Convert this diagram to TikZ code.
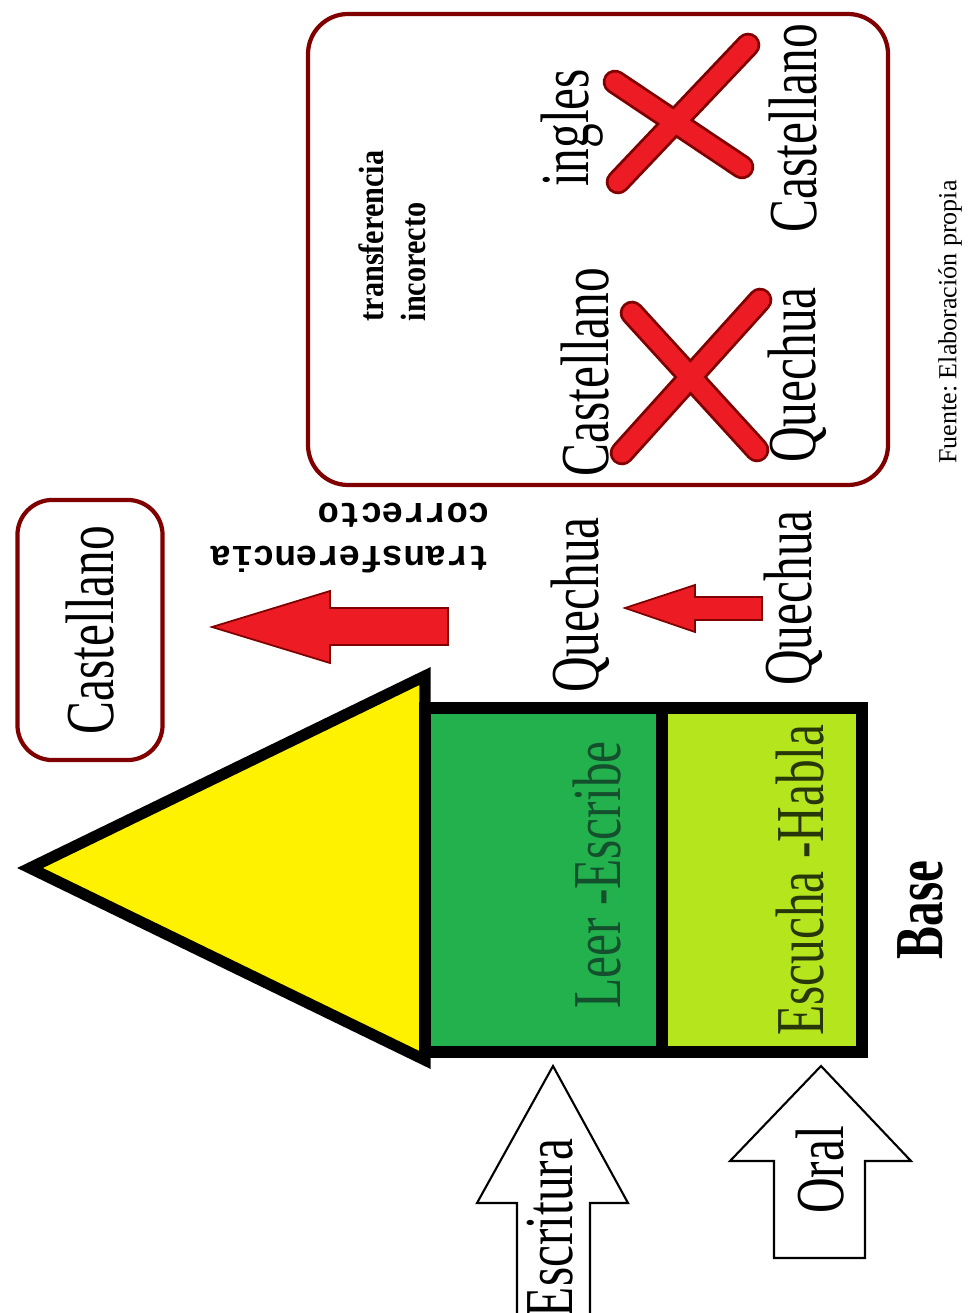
\documentclass[tikz,border=0pt]{standalone}
\usepackage{fontspec}
\setmainfont{Liberation Serif}
\setmonofont{Liberation Mono}
\usepackage{graphicx}
\definecolor{marron}{RGB}{128,0,0}
\definecolor{rojo}{RGB}{237,28,36}
\definecolor{amarillo}{RGB}{255,242,0}
\definecolor{verde}{RGB}{34,177,76}
\definecolor{lima}{RGB}{181,230,29}
\newcommand{\cnd}[1]{\scalebox{0.72}[1]{#1}}
\newcommand{\grande}{\fontsize{19.5}{22}\selectfont}

\begin{document}
\begin{tikzpicture}[x=0.01cm,y=-0.01cm,
   lbl/.style={rotate=90,inner sep=0pt,font=\grande},
   flecha/.style={fill=rojo,draw=marron,line width=0.5pt,line join=miter},
   hueca/.style={fill=white,draw=black,line width=0.6pt,line join=miter},
   cruzfondo/.style={draw=marron,line width=7pt,line cap=round},
   cruz/.style={draw=rojo,line width=5.4pt,line cap=round}]
   \fill[white] (0,0) rectangle (973,1313);
   \useasboundingbox (0,0) rectangle (973,1313);
   % recuadro de transferencia incorrecta
   \draw[marron,line width=1.2pt,rounded corners=0.4cm] (308,14) rectangle (888,485);
   \node[rotate=90,anchor=west,align=left,inner sep=0pt,font=\fontsize{10}{12}\selectfont\bfseries] (incor) at (392,322)
      {\scalebox{0.86}[1]{transferencia}\\ \scalebox{0.86}[1]{incorecto}};
   \node[lbl] (cast1) at (585,372) {\cnd{Castellano}};
   \node[lbl] (quech1) at (797,375) {\cnd{Quechua}};
   \node[lbl] (ingl) at (572,128) {\cnd{ingles}};
   \node[lbl] (cast2) at (793,128) {\cnd{Castellano}};
   \draw[cruzfondo] (760,300) -- (622,453) (632,313) -- (757,450);
   \draw[cruz] (760,300) -- (622,453) (632,313) -- (757,450);
   \draw[cruzfondo] (748,45) -- (618,182) (615,82) -- (742,167);
   \draw[cruz] (748,45) -- (618,182) (615,82) -- (742,167);
   % castellano y transferencia correcta
   \node[lbl,draw=marron,line width=1.2pt,rounded corners=0.35cm,minimum width=2.6cm,minimum height=1.45cm] (castbox) at (90,630) {\cnd{Castellano}};
   \node[rotate=180,align=left,inner sep=0pt,font=\fontsize{10.2}{12}\selectfont\ttfamily\bfseries] (correc) at (350,538)
      {transferencia\\correcto};
   \filldraw[flecha] (212,627) -- (330,591) -- (330,608) -- (448,608) -- (448,645) -- (330,645) -- (330,663) -- cycle;
   \node[lbl] (quech2) at (580,605) {\cnd{Quechua}};
   \node[lbl] (quech3) at (793,598) {\cnd{Quechua}};
   \filldraw[flecha] (625,608) -- (695,585) -- (695,597) -- (762,597) -- (762,620) -- (695,620) -- (695,632) -- cycle;
   % casa
   \filldraw[fill=amarillo,line width=3.2pt,line join=miter] (30,868) -- (425,676) -- (425,1060) -- cycle;
   \filldraw[fill=verde,line width=3.4pt] (425,708) rectangle (662,1052);
   \filldraw[fill=lima,line width=3.4pt] (662,708) rectangle (862,1052);
   \node[lbl,text={rgb,255:red,20;green,80;blue,45}] (leer) at (597,875) {\cnd{Leer -Escribe}};
   \node[lbl,text={rgb,255:red,40;green,55;blue,10}] (escu) at (800,880) {\cnd{Escucha -Habla}};
   \node[lbl,font=\grande\bfseries] (base) at (920,910) {\cnd{Base}};
   % flechas huecas
   \filldraw[hueca] (553,1066) -- (628,1203) -- (590,1203) -- (590,1330) -- (517,1330) -- (517,1203) -- (477,1203) -- cycle;
   \node[lbl] (escr) at (550,1228) {\cnd{Escritura}};
   \filldraw[hueca] (821,1066) -- (911,1161) -- (865,1161) -- (865,1258) -- (774,1258) -- (774,1161) -- (730,1161) -- cycle;
   \node[lbl] (oral) at (820,1170) {\cnd{Oral}};
   % fuente
   \node[rotate=90,inner sep=0pt,font=\fontsize{7.4}{9}\selectfont\frenchspacing] (fuente) at (950,322) {Fuente: Elaboración propia};
\end{tikzpicture}
\end{document}
